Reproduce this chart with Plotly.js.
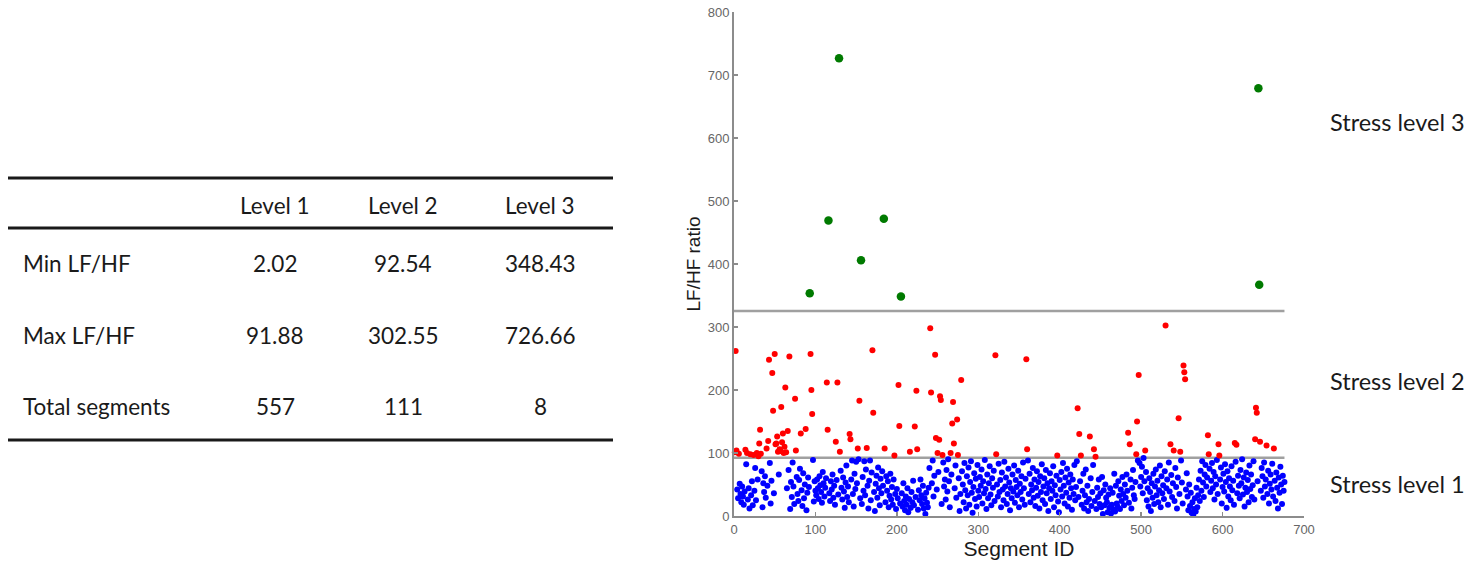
<!DOCTYPE html>
<html>
<head>
<meta charset="utf-8">
<script src="https://cdn.plot.ly/plotly-3.0.1.min.js"></script>
<style>
  html, body { margin: 0; padding: 0; background: #ffffff; }
  #chart { width: 1476px; height: 567px; }
</style>
</head>
<body>
<div id="chart"></div>
<script>
// ---------------- DATA ----------------
// LF/HF ratio of each segment, segment IDs 1..676
const lfhfRatio = [
  101, 262, 104, 42, 28, 99, 51, 35, 22, 47, 31, 18, 39, 105, 82, 100, 26, 44, 12, 98,
  33, 55, 17, 97, 40, 76, 25, 100, 58, 95, 115, 137, 99, 71, 14, 52, 38, 63, 29, 107,
  48, 119, 248, 84, 20, 56, 227, 167, 36, 257, 114, 115, 126, 102, 66, 106, 103, 173, 117, 131,
  100, 110, 204, 101, 44, 135, 73, 253, 11, 54, 30, 85, 47, 19, 186, 104, 62, 35, 24, 57,
  75, 131, 41, 16, 68, 28, 50, 138, 9, 37, 61, 46, 353.5, 257, 200, 162, 89, 23, 55, 40,
  33, 58, 44, 27, 63, 49, 38, 21, 70, 52, 31, 45, 60, 212, 137, 469, 36, 24, 55, 42,
  66, 29, 48, 18, 118, 57, 212, 34, 726.66, 102, 72, 45, 26, 61, 39, 13, 53, 80, 30, 47,
  22, 130, 122, 58, 88, 35, 15, 67, 43, 86, 52, 107, 90, 183, 28, 406, 19, 62, 40, 87,
  33, 74, 108, 48, 12, 56, 88, 25, 69, 263, 164, 38, 8, 51, 64, 29, 77, 44, 17, 59,
  36, 71, 48, 472, 107, 22, 63, 40, 55, 14, 32, 67, 26, 46, 18, 58, 96, 35, 11, 43,
  28, 208, 143, 20, 348.43, 36, 15, 52, 24, 9, 31, 18, 44, 6, 27, 102, 13, 38, 22, 56,
  17, 142, 30, 199, 106, 10, 41, 25, 58, 33, 19, 48, 12, 28, 3, 37, 21, 14, 45, 76,
  298, 196, 52, 88, 31, 64, 256, 124, 42, 100, 70, 121, 190, 184, 19, 97, 85, 47, 58, 26,
  73, 39, 90, 55, 14, 100, 66, 147, 181, 115, 44, 80, 29, 153, 97, 60, 8, 35, 216, 71,
  50, 22, 84, 41, 12, 63, 33, 77, 18, 54, 87, 37, 5, 46, 68, 27, 59, 15, 81, 40,
  30, 62, 48, 74, 20, 55, 36, 89, 43, 11, 66, 28, 52, 79, 34, 17, 60, 45, 72, 24,
  255, 98, 50, 31, 83, 38, 57, 14, 69, 42, 25, 86, 47, 61, 19, 35, 75, 53, 9, 44,
  28, 66, 39, 80, 21, 57, 46, 33, 72, 14, 51, 38, 63, 26, 85, 44, 18, 59, 249, 106,
  88, 35, 67, 22, 50, 41, 76, 29, 58, 16, 45, 71, 32, 54, 12, 63, 38, 82, 25, 47,
  60, 19, 73, 36, 52, 8, 44, 68, 27, 55, 40, 79, 14, 49, 33, 64, 96, 23, 6, 57,
  42, 70, 31, 84, 48, 20, 61, 37, 75, 15, 53, 29, 66, 44, 10, 58, 35, 81, 25, 46,
  87, 171, 30, 130, 55, 96, 18, 40, 67, 12, 33, 74, 22, 48, 8, 27, 126, 60, 16, 38,
  81, 106, 24, 94, 11, 45, 30, 58, 19, 36, 14, 62, 3, 41, 17, 50, 29, 22, 6, 34,
  13, 44, 4, 18, 37, 10, 67, 7, 48, 20, 15, 55, 32, 11, 42, 24, 62, 35, 17, 50,
  29, 66, 40, 132, 21, 114, 58, 12, 45, 73, 33, 27, 54, 98, 150, 88, 224, 84, 47, 62,
  78, 36, 91.88, 55, 104, 70, 25, 44, 15, 60, 38, 8, 52, 29, 67, 19, 47, 74, 33, 56,
  22, 41, 80, 14, 63, 36, 49, 27, 71, 302.55, 44, 58, 18, 85, 39, 114, 65, 30, 52, 104,
  24, 76, 46, 12, 61, 155, 35, 102, 88, 53, 20, 239, 228, 217, 42, 68, 31, 9, 50, 16,
  37, 5, 22, 2.02, 11, 28, 7, 45, 14, 33, 58, 24, 72, 40, 87, 53, 30, 66, 81, 47,
  61, 128, 98, 75, 38, 56, 84, 44, 70, 26, 63, 50, 89, 35, 114, 96, 58, 77, 20, 46,
  67, 39, 82, 54, 13, 71, 31, 60, 47, 25, 79, 41, 56, 18, 116, 86, 113, 36, 64, 48,
  28, 73, 52, 90, 34, 61, 15, 45, 69, 38, 57, 22, 80, 43, 66, 30, 49, 87, 26, 122,
  172, 164, 55, 679, 367, 118, 40, 76, 63, 29, 85, 47, 58, 112, 35, 72, 20, 51, 66, 42,
  83, 31, 107, 56, 24, 69, 45, 12, 61, 37, 78, 50, 19, 64, 40, 54
];
// Level boundaries (LF/HF) drawn as grey separator lines
const levelBounds = [92.54, 325.5];
const levelNames = ['Stress level 1', 'Stress level 2', 'Stress level 3'];
const levelColors = ['#0000ff', '#ff0000', '#007a00'];

// Table
const tableColumns = ['Level 1', 'Level 2', 'Level 3'];
const tableRowLabels = ['Min LF/HF', 'Max LF/HF', 'Total segments'];
const minLFHF = [2.02, 92.54, 348.43];
const maxLFHF = [91.88, 302.55, 726.66];
const totalSegments = [557, 111, 8];

// x / y axis ticks
const xTicks = [0, 100, 200, 300, 400, 500, 600, 700];
const yTicks = [0, 100, 200, 300, 400, 500, 600, 700, 800];

// ---------------- BUILD ----------------
const segIds = lfhfRatio.map((v, i) => i + 1);
function levelOf(v) { return v < levelBounds[0] ? 0 : (v < levelBounds[1] ? 1 : 2); }
const traces = [0, 1, 2].map(k => {
  const xs = [], ys = [];
  lfhfRatio.forEach((v, i) => { if (levelOf(v) === k) { xs.push(segIds[i]); ys.push(v); } });
  return {
    type: 'scatter', mode: 'markers', x: xs, y: ys, name: levelNames[k],
    marker: { color: levelColors[k], size: k === 2 ? 8.5 : 6, line: { width: 0 } },
    hoverinfo: 'x+y', showlegend: false, cliponaxis: false
  };
});

// plot area in pixels
const L = 734, R = 1304, T = 12, B = 516;
const px = x => (x - L) / (R - L);
const py = y => (B - y) / (B - T);

const shapes = [];
const annotations = [];
const nSeg = lfhfRatio.length;
levelBounds.forEach(b => {
  shapes.push({ type: 'line', xref: 'x', yref: 'y', x0: 0, x1: nSeg, y0: b, y1: b,
    line: { color: '#a0a0a0', width: 2.4 }, layer: 'below' });
});

// level labels on the right
const levelLabelY = [484, 381, 122];
levelNames.forEach((t, k) => {
  annotations.push({ xref: 'paper', yref: 'paper', x: px(1328), y: py(levelLabelY[k]),
    xanchor: 'left', yanchor: 'middle', text: t, showarrow: false,
    font: { family: 'Lato, "Open Sans", sans-serif', size: 23.5, color: '#1a1a1a' } });
});

// table (left)
const tblFont = { family: 'Lato, "Open Sans", sans-serif', size: 22.5, color: '#1a1a1a' };
const colX = [275, 403, 540];
const headerY = 205;
const rowY = [263, 335, 406];
const tblLines = [178, 228, 440];
tblLines.forEach(y => {
  shapes.push({ type: 'line', xref: 'paper', yref: 'paper', x0: px(8), x1: px(613), y0: py(y), y1: py(y),
    line: { color: '#1a1a1a', width: 3 } });
});
tableColumns.forEach((c, j) => {
  annotations.push({ xref: 'paper', yref: 'paper', x: px(colX[j]), y: py(headerY), xanchor: 'center', yanchor: 'middle',
    text: c, showarrow: false, font: tblFont });
});
const rowVals = [minLFHF.map(v => v.toFixed(2)), maxLFHF.map(v => v.toFixed(2)), totalSegments.map(v => String(v))];
tableRowLabels.forEach((lab, r) => {
  annotations.push({ xref: 'paper', yref: 'paper', x: px(21), y: py(rowY[r]), xanchor: 'left', yanchor: 'middle',
    text: lab, showarrow: false, font: tblFont });
  rowVals[r].forEach((v, j) => {
    annotations.push({ xref: 'paper', yref: 'paper', x: px(colX[j]), y: py(rowY[r]), xanchor: 'center', yanchor: 'middle',
      text: v, showarrow: false, font: tblFont });
  });
});

const axisCommon = {
  showgrid: false, zeroline: false, showline: true, linecolor: '#8c8c8c', linewidth: 2,
  ticks: 'inside', ticklen: 4, tickwidth: 1.5, tickcolor: '#8c8c8c',
  tickfont: { family: 'Arial, "Liberation Sans", sans-serif', size: 13, color: '#666666' },
  mirror: false, fixedrange: true
};

const layout = {
  width: 1476, height: 567,
  margin: { l: L, r: 1476 - R, t: T, b: 567 - B, pad: 0 },
  paper_bgcolor: '#ffffff', plot_bgcolor: '#ffffff',
  showlegend: false,
  xaxis: Object.assign({}, axisCommon, {
    range: [0, 700], tickvals: xTicks, ticktext: xTicks.map(String),
    title: { text: 'Segment ID', font: { family: 'Arial, "Liberation Sans", sans-serif', size: 21, color: '#1a1a1a' }, standoff: 4 }
  }),
  yaxis: Object.assign({}, axisCommon, {
    range: [0, 800], tickvals: yTicks, ticktext: yTicks.map(String),
    title: { text: 'LF/HF ratio', font: { family: 'Arial, "Liberation Sans", sans-serif', size: 19, color: '#1a1a1a' }, standoff: 2 }
  }),
  shapes: shapes,
  annotations: annotations
};

Plotly.newPlot('chart', traces, layout, { displayModeBar: false, staticPlot: true });
</script>
</body>
</html>
